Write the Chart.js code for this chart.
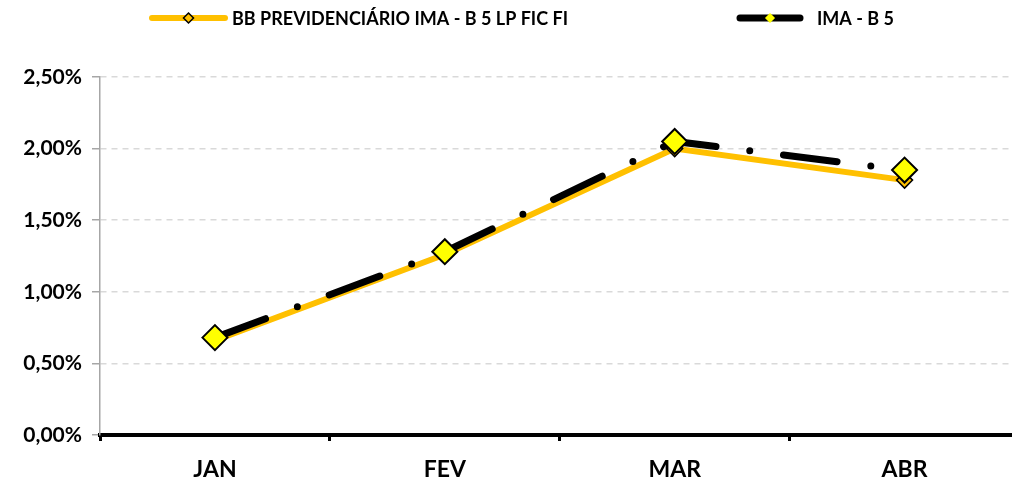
<!DOCTYPE html>
<html>
<head>
<meta charset="utf-8">
<script src="https://cdn.jsdelivr.net/npm/chart.js@4/dist/chart.umd.min.js"></script>
<style>
  html, body { margin: 0; padding: 0; background: #fff; overflow: hidden; }
  #wrap { position: absolute; left: 0; top: 0; width: 1034px; height: 479px; }
</style>
</head>
<body>
<div id="wrap"><canvas id="chart" width="1034" height="479"></canvas></div>
<script>
const months = ['JAN', 'FEV', 'MAR', 'ABR'];
const fundName = 'BB PREVIDENCIÁRIO IMA - B 5 LP FIC FI';
const indexName = 'IMA - B 5';
const fundValues = [0.66, 1.26, 2.00, 1.78];
const indexValues = [0.68, 1.28, 2.05, 1.85];
const yTicks = [0, 0.5, 1.0, 1.5, 2.0, 2.5];

const fontFamily = 'Lato, "Open Sans", sans-serif';
const fmtPct = (v) => v.toFixed(2).replace('.', ',') + '%';

// legend drawn by hand: line sample with marker in the middle
const lineLegend = {
  id: 'lineLegend',
  afterDraw(chart) {
    const ctx = chart.ctx;
    const items = [
      { x1: 152, x2: 225, color: '#FFC000', width: 6, mark: '#FFC000', size: 5, border: '#000', text: fundName, tx: 232 },
      { x1: 740, x2: 800, color: '#000000', width: 7, mark: '#FFFF00', size: 4, border: '#FFFF00', text: indexName, tx: 817 },
    ];
    const y = 18;
    ctx.save();
    items.forEach((it) => {
      ctx.lineCap = 'round';
      ctx.strokeStyle = it.color;
      ctx.lineWidth = it.width;
      ctx.beginPath();
      ctx.moveTo(it.x1, y);
      ctx.lineTo(it.x2, y);
      ctx.stroke();
      const cx = (it.x1 + it.x2) / 2;
      ctx.beginPath();
      ctx.moveTo(cx, y - it.size);
      ctx.lineTo(cx + it.size, y);
      ctx.lineTo(cx, y + it.size);
      ctx.lineTo(cx - it.size, y);
      ctx.closePath();
      ctx.fillStyle = it.mark;
      ctx.fill();
      ctx.lineWidth = 1.5;
      ctx.strokeStyle = it.border;
      ctx.stroke();
      ctx.fillStyle = '#000';
      ctx.font = 'bold 18px ' + fontFamily;
      ctx.textBaseline = 'middle';
      ctx.textAlign = 'left';
      ctx.fillText(it.text, it.tx, y + 1);
    });
    ctx.restore();
  },
};

const data = {
  labels: months,
  datasets: [
    {
      label: fundName,
      data: fundValues,
      borderColor: '#FFC000',
      backgroundColor: '#FFC000',
      borderWidth: 6,
      pointStyle: 'rectRot',
      pointRadius: 8,
      pointBackgroundColor: '#FFC000',
      pointBorderColor: '#000',
      pointBorderWidth: 1.5,
      tension: 0,
      order: 2,
    },
    {
      label: indexName,
      data: indexValues,
      borderColor: '#000000',
      backgroundColor: '#000000',
      borderWidth: 7,
      borderDash: [54, 34, 0, 34],
      borderCapStyle: 'round',
      pointStyle: 'rectRot',
      pointRadius: 12.5,
      pointBackgroundColor: '#FFFF00',
      pointBorderColor: '#000',
      pointBorderWidth: 2,
      tension: 0,
      order: 1,
    },
  ],
};

const config = {
  type: 'line',
  data: data,
  plugins: [lineLegend],
  options: {
    responsive: false,
    animation: false,
    layout: {
      padding: { top: 77, right: 0, left: 0, bottom: 0 },
    },
    plugins: {
      legend: { display: false },
      tooltip: { enabled: false },
    },
    scales: {
      x: {
        offset: true,
        afterFit: (scale) => { scale.height = 44; },
        grid: {
          display: true,
          offset: true,
          drawOnChartArea: false,
          drawTicks: true,
          tickLength: 6,
          tickColor: '#000',
          tickWidth: 3,
        },
        border: { display: true, color: '#000', width: 4 },
        ticks: {
          color: '#000',
          padding: 15,
          font: { family: fontFamily, size: 23, weight: 'bold' },
        },
      },
      y: {
        min: 0,
        max: 2.5,
        afterFit: (scale) => { scale.width = 100; },
        afterBuildTicks: (scale) => {
          scale.ticks = yTicks.map((v) => ({ value: v }));
        },
        grid: {
          color: '#d9d9d9',
          lineWidth: 1.5,
          tickLength: 8,
          tickColor: '#a6a6a6',
          tickWidth: 1.5,
        },
        border: { display: true, color: '#a6a6a6', width: 1.5, dash: [6, 5] },
        ticks: {
          color: '#000',
          padding: 10,
          font: { family: fontFamily, size: 21, weight: 'bold' },
          callback: (v) => fmtPct(v),
        },
      },
    },
  },
};

new Chart(document.getElementById('chart'), config);
</script>
</body>
</html>
